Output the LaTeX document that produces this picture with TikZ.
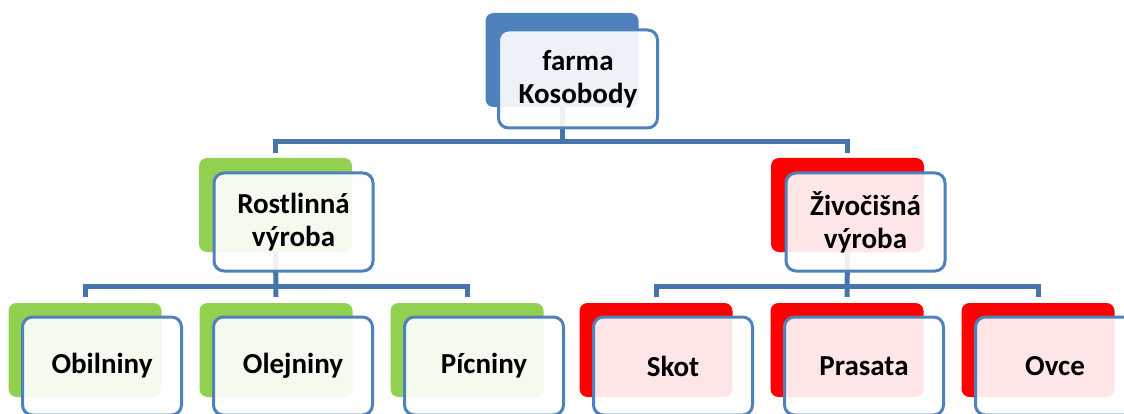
\documentclass[tikz,border=0pt]{standalone}
\usepackage{fontspec}
\setmainfont{Carlito}
\definecolor{farmblue}{HTML}{4F81BD}
\definecolor{linkblue}{HTML}{4874AC}
\definecolor{farmgreen}{HTML}{92D050}
\definecolor{farmred}{HTML}{FF0000}
\tikzset{
  backbox/.style={rounded corners=8pt,minimum width=153pt,minimum height=94pt,inner sep=0pt},
  frontbox/.style={draw=farmblue,line width=3pt,rounded corners=10pt,fill=white,fill opacity=0.9,
    text opacity=1,minimum width=159pt,minimum height=98pt,inner sep=0pt,align=center,
    font=\bfseries\fontsize{29}{33}\selectfont},
  conn/.style={draw=linkblue,line width=5pt}
}

\begin{document}
\begin{tikzpicture}[x=1pt,y=-1pt]
  \useasboundingbox (0,0) rectangle (1124,414);
  %zadni obdelniky
  \node[backbox,fill=farmblue] (farma) at (562,60) {};
  \node[backbox,fill=farmgreen] (rostlinna) at (275.5,205) {};
  \node[backbox,fill=farmred] (zivocisna) at (847.5,205) {};
  \node[backbox,fill=farmgreen] (obilniny) at (85,350) {};
  \node[backbox,fill=farmgreen] (olejniny) at (276,350) {};
  \node[backbox,fill=farmgreen] (picniny) at (467,350) {};
  \node[backbox,fill=farmred] (skot) at (656,350) {};
  \node[backbox,fill=farmred] (prasata) at (847,350) {};
  \node[backbox,fill=farmred] (ovce) at (1038,350) {};
  %spojnice
  \coordinate (j0) at (562,142);
  \coordinate (j1) at (276,286);
  \coordinate (j2) at (847,286);
  \draw[conn] (farma.south) -- (j0);
  \draw[conn] ([yshift=5pt]rostlinna.north) |- (j0) -| ([yshift=5pt]zivocisna.north);
  \draw[conn] (rostlinna.south) -- ([yshift=6pt]olejniny.north);
  \draw[conn] ([yshift=6pt]obilniny.north) |- (j1) -| ([yshift=6pt]picniny.north);
  \draw[conn] (zivocisna.south) -- ([yshift=6pt]prasata.north);
  \draw[conn] ([yshift=6pt]skot.north) |- (j2) -| ([yshift=6pt]ovce.north);
  %predni obdelniky s textem
  \node[frontbox] (farmaT) at ([shift={(16,19)}]farma.center) {farma\\Kosobody};
  \node[frontbox] (rostlinnaT) at ([shift={(18,17)}]rostlinna.center) {Rostlinná\\výroba};
  \node[frontbox] (zivocisnaT) at ([shift={(18,17)}]zivocisna.center) {Živočišná\\výroba};
  \node[frontbox] (obilninyT) at ([shift={(17,16)}]obilniny.center) {Obilniny};
  \node[frontbox] (olejninyT) at ([shift={(17,16)}]olejniny.center) {Olejniny};
  \node[frontbox] (picninyT) at ([shift={(17,16)}]picniny.center) {Pícniny};
  \node[frontbox] (skotT) at ([shift={(17,16)}]skot.center) {Skot};
  \node[frontbox] (prasataT) at ([shift={(17,16)}]prasata.center) {Prasata};
  \node[frontbox] (ovceT) at ([shift={(17,16)}]ovce.center) {Ovce};
\end{tikzpicture}
\end{document}
